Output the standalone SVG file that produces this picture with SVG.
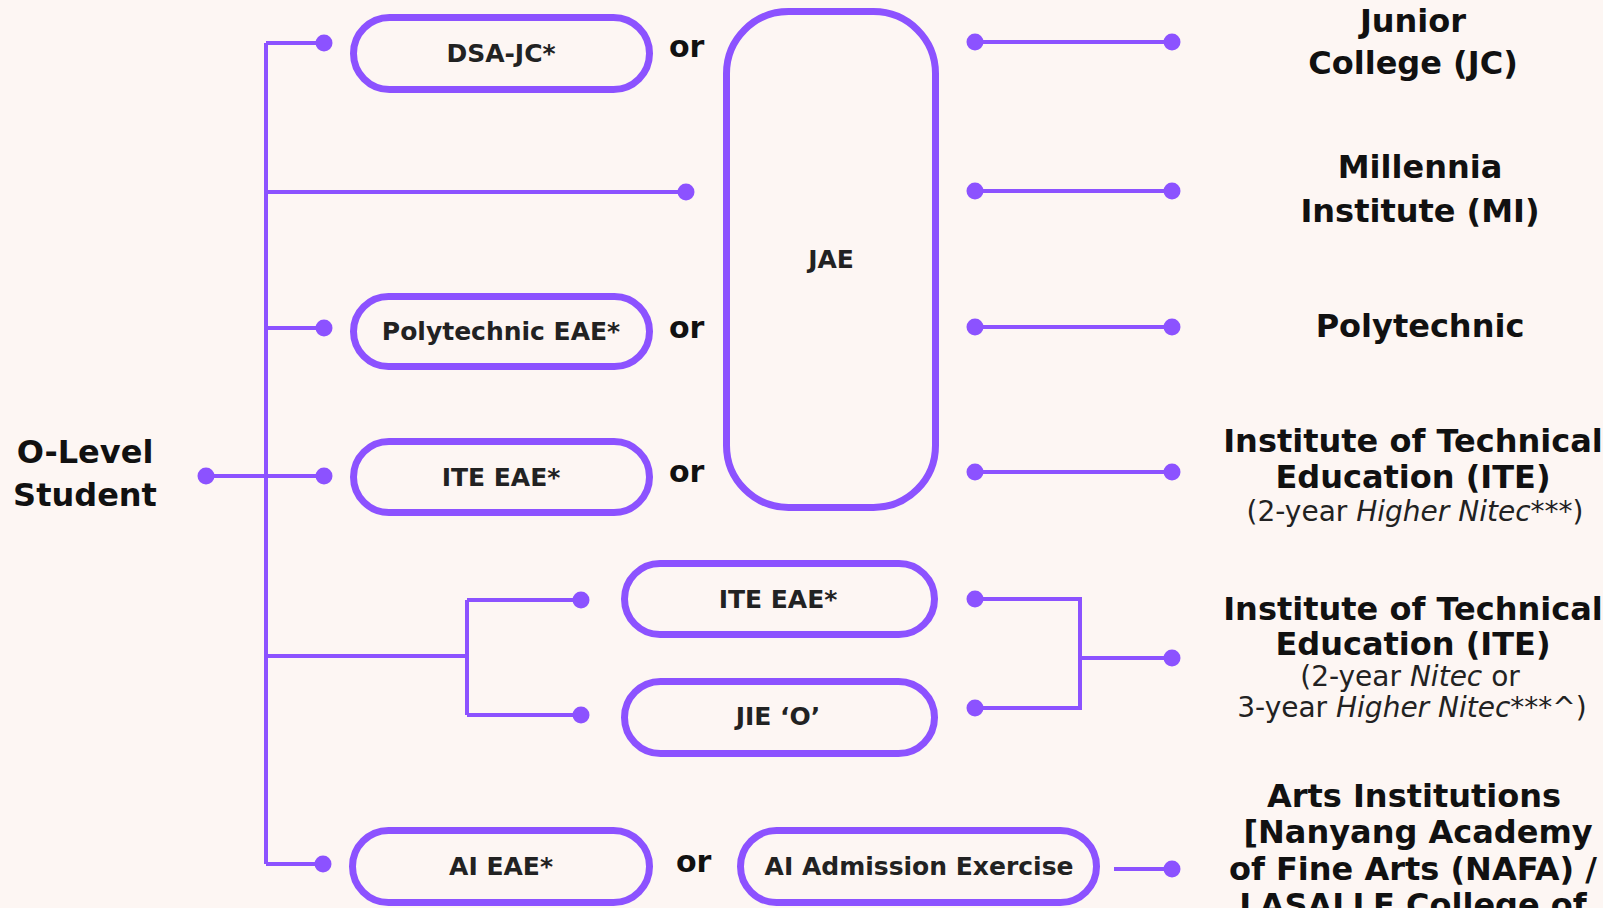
<svg xmlns="http://www.w3.org/2000/svg" width="1603" height="908" viewBox="0 0 1603 908">
<style>
.bg{fill:#fdf6f3}
.box{fill:#fdf6f3;stroke:#8c52ff;stroke-width:7}
.ln{fill:none;stroke:#8c52ff;stroke-width:4}
.dot{fill:#8c52ff}
.bt{font-family:"DejaVu Sans",sans-serif;font-weight:700;font-size:25px;fill:#222;text-anchor:middle}
.or{font-family:"DejaVu Sans",sans-serif;font-weight:700;font-size:30px;fill:#111}
.dst{font-family:"DejaVu Sans",sans-serif;font-weight:700;font-size:32px;fill:#111;text-anchor:middle}
.sub{font-family:"DejaVu Sans",sans-serif;font-weight:400;font-size:28px;fill:#222;text-anchor:middle}
.it{font-style:italic}
</style>
<rect class="bg" x="0" y="0" width="1603" height="908"/>
<g id="connectors">
<path class="ln" d="M266 43V864M266 43H324M266 192H686M266 328H324M206 476H324M266 656H467M467 600V715M467 600H581M467 715H581M266 864H323"/>
<path class="ln" d="M975 42H1172M975 191H1172M975 327H1172M975 472H1172M975 599H1080V708H975M1080 658H1172M1114 869H1172"/>
<g class="dot">
<circle cx="324" cy="43" r="8.5"/><circle cx="686" cy="192" r="8.5"/><circle cx="324" cy="328" r="8.5"/>
<circle cx="206" cy="476" r="8.5"/><circle cx="324" cy="476" r="8.5"/>
<circle cx="581" cy="600" r="8.5"/><circle cx="581" cy="715" r="8.5"/><circle cx="323" cy="864" r="8.5"/>
<circle cx="975" cy="42" r="8.5"/><circle cx="1172" cy="42" r="8.5"/>
<circle cx="975" cy="191" r="8.5"/><circle cx="1172" cy="191" r="8.5"/>
<circle cx="975" cy="327" r="8.5"/><circle cx="1172" cy="327" r="8.5"/>
<circle cx="975" cy="472" r="8.5"/><circle cx="1172" cy="472" r="8.5"/>
<circle cx="975" cy="599" r="8.5"/><circle cx="975" cy="708" r="8.5"/><circle cx="1172" cy="658" r="8.5"/>
<circle cx="1172" cy="869" r="8.5"/>
</g>
</g>
<g id="olevel"><text class="dst" x="85" y="463" font-size="31">O-Level</text><text class="dst" x="85" y="506" font-size="31">Student</text></g>
<g id="dsa-jc"><rect class="box" x="353.5" y="17.5" width="296" height="72" rx="36"/><text class="bt" x="501" y="62">DSA-JC*</text></g>
<g id="or1"><text class="or" x="669" y="57">or</text></g>
<g id="poly-eae"><rect class="box" x="353.5" y="296.5" width="296" height="70" rx="35"/><text class="bt" x="501" y="340">Polytechnic EAE*</text></g>
<g id="or2"><text class="or" x="669" y="338">or</text></g>
<g id="ite-eae"><rect class="box" x="353.5" y="441.5" width="296" height="71" rx="35.5"/><text class="bt" x="501" y="486">ITE EAE*</text></g>
<g id="or3"><text class="or" x="669" y="482">or</text></g>
<g id="jae"><rect class="box" x="726.5" y="11.5" width="209" height="496" rx="62"/><text class="bt" x="831" y="268">JAE</text></g>
<g id="ite-eae2"><rect class="box" x="624.5" y="563.5" width="310" height="71" rx="35.5"/><text class="bt" x="778" y="608">ITE EAE*</text></g>
<g id="jie-o"><rect class="box" x="624.5" y="681.5" width="310" height="72" rx="36"/><text class="bt" x="778" y="725">JIE ‘O’</text></g>
<g id="ai-eae"><rect class="box" x="352.5" y="830.5" width="297" height="72" rx="36"/><text class="bt" x="501" y="875">AI EAE*</text></g>
<g id="or4"><text class="or" x="676" y="872">or</text></g>
<g id="ai-admission"><rect class="box" x="740.5" y="830.5" width="356" height="72" rx="36"/><text class="bt" x="919" y="875">AI Admission Exercise</text></g>
<g id="jc"><text class="dst" x="1413" y="32">Junior</text><text class="dst" x="1413" y="74">College (JC)</text></g>
<g id="mi"><text class="dst" x="1420" y="178">Millennia</text><text class="dst" x="1420" y="222">Institute (MI)</text></g>
<g id="poly"><text class="dst" x="1420" y="337">Polytechnic</text></g>
<g id="ite1"><text class="dst" x="1413" y="452">Institute of Technical</text><text class="dst" x="1413" y="488">Education (ITE)</text><text class="sub" x="1415" y="521">(2-year <tspan class="it">Higher Nitec</tspan>***)</text></g>
<g id="ite2"><text class="dst" x="1413" y="620">Institute of Technical</text><text class="dst" x="1413" y="655">Education (ITE)</text><text class="sub" x="1410" y="686">(2-year <tspan class="it">Nitec</tspan> or</text><text class="sub" x="1412" y="717">3-year <tspan class="it">Higher Nitec</tspan>***^)</text></g>
<g id="arts"><text class="dst" x="1414" y="807">Arts Institutions</text><text class="dst" x="1418" y="843">[Nanyang Academy</text><text class="dst" x="1413" y="880">of Fine Arts (NAFA) /</text><text class="dst" x="1413" y="916">LASALLE College of</text></g>
</svg>
